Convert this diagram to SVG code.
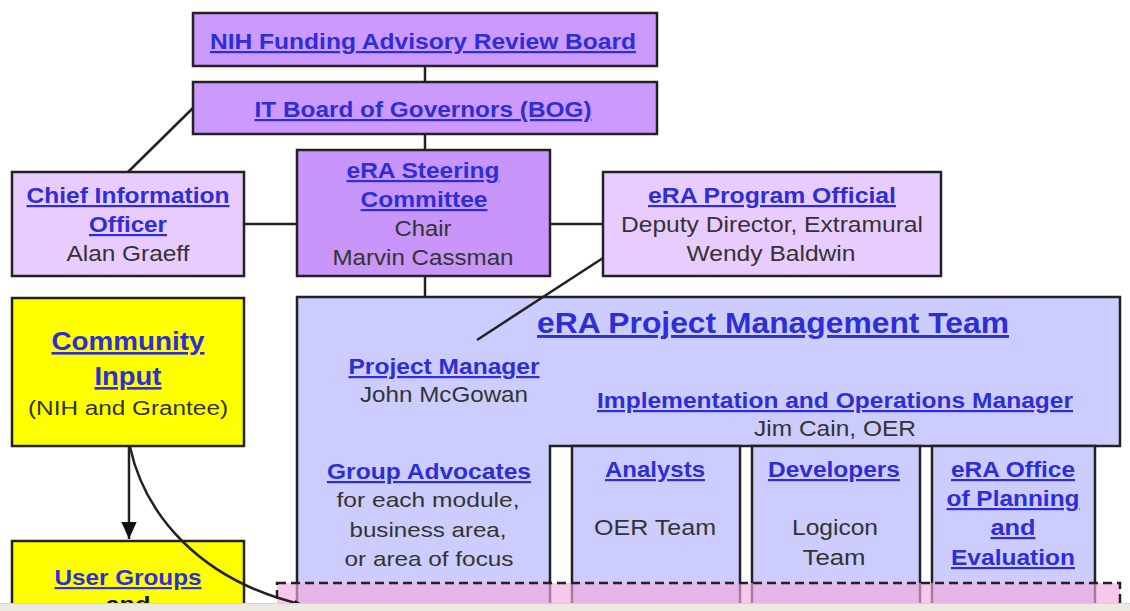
<svg xmlns="http://www.w3.org/2000/svg" width="1130" height="611" viewBox="0 0 1130 611">
<style>
.box{stroke:#222;stroke-width:2.5}
.p1{fill:#cc99ff}
.p2{fill:#e8ccff}
.pb{fill:#ccccff}
.yl{fill:#ffff00}
.h{font-family:"Liberation Sans",Arial,sans-serif;font-weight:bold;fill:#2e2ed6;text-decoration:underline;text-anchor:middle}
.t{font-family:"Liberation Sans",Arial,sans-serif;fill:#333;text-anchor:middle}
.ln{stroke:#222;stroke-width:2.5;fill:none}
</style>
<defs>
<marker id="ah" viewBox="0 0 10 10" refX="9" refY="5" markerWidth="6" markerHeight="6" markerUnits="userSpaceOnUse" orient="auto">
<path d="M0,0 L10,5 L0,10 z" fill="#111"/>
</marker>
<marker id="ah2" viewBox="0 0 10 10" refX="10" refY="5" markerWidth="17" markerHeight="17" markerUnits="userSpaceOnUse" orient="auto">
<path d="M0,0.5 L10,5 L0,9.5 z" fill="#111"/>
</marker>
</defs>
<rect width="1130" height="611" fill="#fff"/>

<g id="connectors">
<line class="ln" x1="425" y1="66" x2="425" y2="82"/>
<line class="ln" x1="425" y1="134" x2="425" y2="150"/>
<line class="ln" x1="425" y1="277" x2="425" y2="297"/>
<line class="ln" x1="128" y1="172" x2="193" y2="108"/>
<line class="ln" x1="244" y1="224" x2="297" y2="224"/>
<line class="ln" x1="550" y1="224" x2="603" y2="224"/>
<line class="ln" x1="129" y1="446" x2="129" y2="539" marker-end="url(#ah2)"/>
</g>

<g id="nih-board">
<rect class="box p1" x="193" y="13" width="464" height="53"/>
<text class="h" x="423" y="49" font-size="22" textLength="426" lengthAdjust="spacingAndGlyphs">NIH Funding Advisory Review Board</text>
</g>
<g id="it-bog">
<rect class="box p1" x="193" y="82" width="464" height="52"/>
<text class="h" x="423" y="117" font-size="22" textLength="337" lengthAdjust="spacingAndGlyphs">IT Board of Governors (BOG)</text>
</g>
<g id="steering">
<rect class="box" fill="#c895fa" x="297" y="150" width="253" height="126"/>
<text class="h" x="423" y="178" font-size="22" textLength="153" lengthAdjust="spacingAndGlyphs">eRA Steering</text>
<text class="h" x="424" y="207" font-size="22" textLength="127" lengthAdjust="spacingAndGlyphs">Committee</text>
<text class="t" x="423" y="236" font-size="22" textLength="57" lengthAdjust="spacingAndGlyphs">Chair</text>
<text class="t" x="423" y="265" font-size="22" textLength="181" lengthAdjust="spacingAndGlyphs">Marvin Cassman</text>
</g>
<g id="cio">
<rect class="box p2" x="12" y="172" width="232" height="104"/>
<text class="h" x="128" y="203" font-size="22" textLength="203" lengthAdjust="spacingAndGlyphs">Chief Information</text>
<text class="h" x="128" y="232" font-size="22" textLength="78" lengthAdjust="spacingAndGlyphs">Officer</text>
<text class="t" x="128" y="261" font-size="22" textLength="123" lengthAdjust="spacingAndGlyphs">Alan Graeff</text>
</g>
<g id="program-official">
<rect class="box p2" x="603" y="172" width="338" height="104"/>
<text class="h" x="772" y="203" font-size="22" textLength="248" lengthAdjust="spacingAndGlyphs">eRA Program Official</text>
<text class="t" x="772" y="232" font-size="22" textLength="302" lengthAdjust="spacingAndGlyphs">Deputy Director, Extramural</text>
<text class="t" x="771" y="261" font-size="22" textLength="169" lengthAdjust="spacingAndGlyphs">Wendy Baldwin</text>
</g>
<g id="community">
<rect class="box yl" x="12" y="298" width="232" height="148"/>
<text class="h" x="128" y="350" font-size="26" textLength="153" lengthAdjust="spacingAndGlyphs">Community</text>
<text class="h" x="128" y="385" font-size="26" textLength="67" lengthAdjust="spacingAndGlyphs">Input</text>
<text class="t" x="128" y="415" font-size="20" textLength="200" lengthAdjust="spacingAndGlyphs">(NIH and Grantee)</text>
</g>
<g id="user-groups">
<rect class="box yl" x="12" y="541" width="232" height="80"/>
<text class="h" x="128" y="585" font-size="22" textLength="147" lengthAdjust="spacingAndGlyphs">User Groups</text>
<text class="h" x="128" y="612" font-size="22" textLength="45" lengthAdjust="spacingAndGlyphs" style="text-decoration:none;fill:#111">and</text>
</g>
<g id="pmt">
<path class="box pb" d="M297,297 H1120 V446 H550 V620 H297 Z"/>
<text class="h" x="773" y="333" font-size="29" textLength="472" lengthAdjust="spacingAndGlyphs">eRA Project Management Team</text>
<text class="h" x="444" y="374" font-size="22" textLength="191" lengthAdjust="spacingAndGlyphs">Project Manager</text>
<text class="t" x="444" y="402" font-size="22" textLength="168" lengthAdjust="spacingAndGlyphs">John McGowan</text>
<text class="h" x="835" y="408" font-size="22" textLength="476" lengthAdjust="spacingAndGlyphs">Implementation and Operations Manager</text>
<text class="t" x="835" y="436" font-size="22" textLength="162" lengthAdjust="spacingAndGlyphs">Jim Cain, OER</text>
<text class="h" x="429" y="479" font-size="22" textLength="204" lengthAdjust="spacingAndGlyphs">Group Advocates</text>
<text class="t" x="428" y="507" font-size="21" textLength="183" lengthAdjust="spacingAndGlyphs">for each module,</text>
<text class="t" x="428" y="537" font-size="21" textLength="157" lengthAdjust="spacingAndGlyphs">business area,</text>
<text class="t" x="429" y="566" font-size="21" textLength="169" lengthAdjust="spacingAndGlyphs">or area of focus</text>
</g>
<line class="ln" x1="603" y1="258" x2="477" y2="340"/>
<g id="analysts">
<rect class="box pb" x="572" y="446" width="168" height="174"/>
<text class="h" x="655" y="477" font-size="22" textLength="100" lengthAdjust="spacingAndGlyphs">Analysts</text>
<text class="t" x="655" y="535" font-size="22" textLength="122" lengthAdjust="spacingAndGlyphs">OER Team</text>
</g>
<g id="developers">
<rect class="box pb" x="752" y="446" width="168" height="174"/>
<text class="h" x="834" y="477" font-size="22" textLength="132" lengthAdjust="spacingAndGlyphs">Developers</text>
<text class="t" x="835" y="535" font-size="22" textLength="86" lengthAdjust="spacingAndGlyphs">Logicon</text>
<text class="t" x="834" y="565" font-size="22" textLength="63" lengthAdjust="spacingAndGlyphs">Team</text>
</g>
<g id="planning-office">
<rect class="box pb" x="932" y="446" width="163" height="174"/>
<text class="h" x="1013" y="477" font-size="22" textLength="124" lengthAdjust="spacingAndGlyphs">eRA Office</text>
<text class="h" x="1013" y="506" font-size="22" textLength="133" lengthAdjust="spacingAndGlyphs">of Planning</text>
<text class="h" x="1013" y="535" font-size="22" textLength="45" lengthAdjust="spacingAndGlyphs">and</text>
<text class="h" x="1013" y="565" font-size="22" textLength="124" lengthAdjust="spacingAndGlyphs">Evaluation</text>
</g>
<g id="review-band">
<rect x="277" y="583" width="843" height="40" fill="rgb(244,170,224)" fill-opacity="0.65" stroke="#222" stroke-width="2.5" stroke-dasharray="9,5"/>
</g>
<g id="connectors-curve">
<path class="ln" d="M130,447 C145,515 200,580 300,604" marker-end="url(#ah)"/>
</g>
<rect x="0" y="603" width="1130" height="8" fill="#ebe9e2"/>
<line x1="0" y1="603.5" x2="1130" y2="603.5" stroke="#d6d3ca" stroke-width="1"/>
</svg>
